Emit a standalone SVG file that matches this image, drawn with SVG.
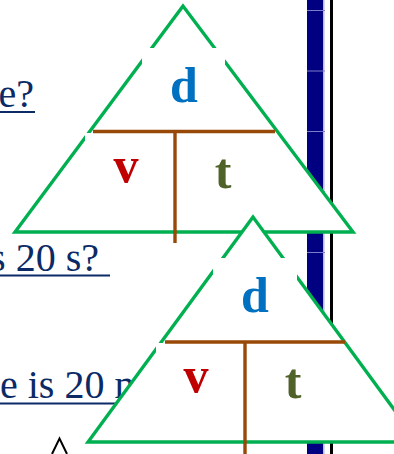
<svg xmlns="http://www.w3.org/2000/svg" width="394" height="454" viewBox="0 0 394 454">
<style>
.q{font-family:"Liberation Serif","Times New Roman",serif;font-size:40px;fill:#0B2A66}
.ul{stroke:#0B2A66;stroke-width:2}
.tri{fill:#fff;stroke:#00B050;stroke-width:3.4;stroke-linejoin:miter}
.br{stroke:#984807;stroke-width:3.4;fill:none}
.lbl{font-family:"Liberation Serif","Times New Roman",serif;font-weight:bold;font-size:50px;text-anchor:middle}
.d{fill:#0070C0}.v{fill:#C00000}.t{fill:#4F6228}
.gl{stroke:#7C7CC8;stroke-width:1}
</style>
<g id="background">
<rect x="307" y="0" width="16" height="454" fill="#000080"/>
<line x1="323.8" y1="0" x2="323.8" y2="454" stroke="#B8B8E8" stroke-width="1.5"/>
<g class="gl">
<line x1="307" y1="10.5" x2="325" y2="10.5"/>
<line x1="307" y1="71" x2="325" y2="71"/>
<line x1="307" y1="131.5" x2="325" y2="131.5"/>
<line x1="307" y1="192" x2="325" y2="192"/>
<line x1="307" y1="252.5" x2="325" y2="252.5"/>
<line x1="307" y1="313" x2="325" y2="313"/>
<line x1="307" y1="373.5" x2="325" y2="373.5"/>
<line x1="307" y1="434" x2="325" y2="434"/>
</g>
<rect x="330" y="0" width="3" height="454" fill="#000"/>
</g>
<g id="text-lines">
<text class="q" x="34" y="107" text-anchor="end">e?</text>
<line class="ul" x1="0" y1="112" x2="35" y2="112"/>
<text class="q" x="99" y="271" text-anchor="end">s 20 s?</text>
<line class="ul" x1="0" y1="275.5" x2="110" y2="275.5"/>
<text class="q" x="0" y="398">e is 20 m</text>
<line class="ul" x1="0" y1="403.5" x2="118" y2="403.5"/>
<polyline points="52,454 59.5,438.5 67,454" fill="none" stroke="#000" stroke-width="2"/>
</g>
<g id="triangle1">
<polygon class="tri" points="183,6 15,232 353,232"/>
<rect x="142" y="48" width="83" height="70" fill="#fff"/>
<rect x="85" y="133" width="80" height="70" fill="#fff"/>
<line class="br" x1="93" y1="131.5" x2="275" y2="131.5"/>
<line class="br" x1="175" y1="131.5" x2="175" y2="243"/>
<text class="lbl d" x="184" y="102">d</text>
<text class="lbl v" x="126" y="182">v</text>
<text class="lbl t" x="223" y="188">t</text>
</g>
<g id="triangle2">
<polygon class="tri" points="253,217 88,442 418,442"/>
<rect x="213" y="258" width="84" height="70" fill="#fff"/>
<rect x="156" y="343" width="80" height="70" fill="#fff"/>
<line class="br" x1="165" y1="342" x2="345" y2="342"/>
<line class="br" x1="245" y1="342" x2="245" y2="454"/>
<text class="lbl d" x="255" y="312">d</text>
<text class="lbl v" x="196" y="392">v</text>
<text class="lbl t" x="293" y="398">t</text>
</g>
</svg>
